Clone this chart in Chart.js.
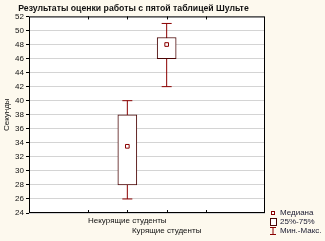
<!DOCTYPE html>
<html>
<head>
<meta charset="utf-8">
<script src="https://cdn.jsdelivr.net/npm/chart.js@4.4.0/dist/chart.umd.min.js"></script>
<style>
body { margin: 0; background: #fdf9ee; }
#wrap { position: relative; width: 325px; height: 241px; }
.leg { position: absolute; left: 269px; height: 9px; font: 8px "Liberation Sans", Arial, sans-serif; color: #1a1a30; display: flex; align-items: center; white-space: nowrap; }
.leg svg { margin-right: 3px; }
</style>
</head>
<body>
<div id="wrap">
  <canvas id="chart" width="325" height="241"></canvas>
  <div class="leg" style="top:208px;"><svg width="8" height="8"><rect x="2.5" y="2.5" width="3" height="3" fill="#fff" stroke="#8b0000"/></svg>Медиана</div>
  <div class="leg" style="top:217px;"><svg width="8" height="8"><rect x="1.5" y="0.5" width="6" height="7" fill="#fff" stroke="#4a0505"/></svg>25%-75%</div>
  <div class="leg" style="top:226px;"><svg width="8" height="8"><path d="M1 0.5H7M4 0.5V7.5M1 7.5H7" stroke="#8b0000" fill="none"/></svg>Мин.-Макс.</div>
</div>
<script>
const groups = ['Некурящие студенты', 'Курящие студенты']
const groupX = [2, 3]
const minVals = [26, 42]
const q1Vals = [28, 46]
const medianVals = [33.5, 48]
const q3Vals = [38, 49]
const maxVals = [40, 51]
const yMin = 24
const yMax = 52
const yStep = 2

// white plot area, black frame, inward x tick marks
const frame = {
    id: 'frame',
    beforeDraw(chart) {
        const { ctx, chartArea: a } = chart
        ctx.save()
        ctx.fillStyle = '#ffffff'
        ctx.fillRect(a.left, a.top, a.right - a.left, a.bottom - a.top)
        ctx.restore()
    },
    afterDatasetsDraw(chart) {
        const { ctx, chartArea: a } = chart
        const x = chart.scales.x
        ctx.save()
        ctx.strokeStyle = '#000'
        ctx.lineWidth = 1
        ctx.strokeRect(a.left + 0.5, a.top + 0.5, a.right - a.left - 1, a.bottom - a.top - 1)
        ctx.beginPath()
        x.ticks.forEach(t => {
            if (t.value <= x.min || t.value >= x.max) return
            const px = Math.round(x.getPixelForValue(t.value)) + 0.5
            ctx.moveTo(px, a.bottom)
            ctx.lineTo(px, a.bottom - 3)
            ctx.moveTo(px, a.top)
            ctx.lineTo(px, a.top + 3)
        })
        ctx.stroke()
        ctx.restore()
    }
}

const labelFont = { family: '"Liberation Sans", Arial, sans-serif', size: 8 }

new Chart(document.getElementById('chart'), {
    type: 'bar',
    data: {
        datasets: [
            {
                type: 'scatter',
                order: 0,
                data: groupX.map((x, i) => ({ x: x, y: medianVals[i] })),
                pointStyle: 'rect',
                pointRadius: 2.6,
                pointBackgroundColor: '#fff',
                pointBorderColor: '#8b0000',
                pointBorderWidth: 1
            },
            {
                type: 'bar',
                order: 1,
                data: groupX.map((x, i) => ({ x: x, y: [q1Vals[i], q3Vals[i]] })),
                backgroundColor: '#fff',
                borderColor: '#4a0505',
                borderWidth: 1,
                borderSkipped: false,
                barThickness: 19
            },
            {
                type: 'line',
                order: 2,
                data: [{ x: groupX[0], y: minVals[0] }, { x: groupX[0], y: maxVals[0] }],
                borderColor: '#8b0000',
                borderWidth: 1,
                pointStyle: 'line',
                pointRadius: 5,
                pointBorderColor: '#8b0000',
                pointBorderWidth: 1
            },
            {
                type: 'line',
                order: 2,
                data: [{ x: groupX[1], y: minVals[1] }, { x: groupX[1], y: maxVals[1] }],
                borderColor: '#8b0000',
                borderWidth: 1,
                pointStyle: 'line',
                pointRadius: 5,
                pointBorderColor: '#8b0000',
                pointBorderWidth: 1
            }
        ]
    },
    options: {
        responsive: false,
        animation: false,
        layout: { padding: { left: 2, right: 60, top: 0, bottom: 0 } },
        plugins: {
            legend: { display: false },
            tooltip: { enabled: false },
            title: {
                display: true,
                text: 'Результаты оценки работы с пятой таблицей Шульте',
                color: '#111',
                font: { family: '"Liberation Sans", Arial, sans-serif', size: 8.7, weight: 'bold' },
                padding: { top: 3, bottom: 3 }
            }
        },
        scales: {
            x: {
                type: 'linear',
                min: 0,
                max: 5,
                afterFit: s => { s.height = 28 },
                border: { display: false },
                grid: { display: false, drawTicks: false },
                ticks: {
                    stepSize: 1,
                    autoSkip: false,
                    maxRotation: 0,
                    padding: 3,
                    color: '#111',
                    font: labelFont,
                    callback: v => {
                        if (v === groupX[0]) return groups[0]
                        if (v === groupX[1]) return ['', groups[1]]
                        return ''
                    }
                }
            },
            y: {
                min: yMin,
                max: yMax,
                afterFit: s => { s.width = 27 },
                border: { display: false },
                grid: { color: '#d4d4d4', tickColor: '#000', tickLength: 3 },
                title: { display: true, text: 'Секунды', color: '#111', font: labelFont, padding: 0 },
                ticks: {
                    stepSize: yStep,
                    padding: 2,
                    color: '#111',
                    font: labelFont
                }
            }
        }
    },
    plugins: [frame]
})
</script>
</body>
</html>
